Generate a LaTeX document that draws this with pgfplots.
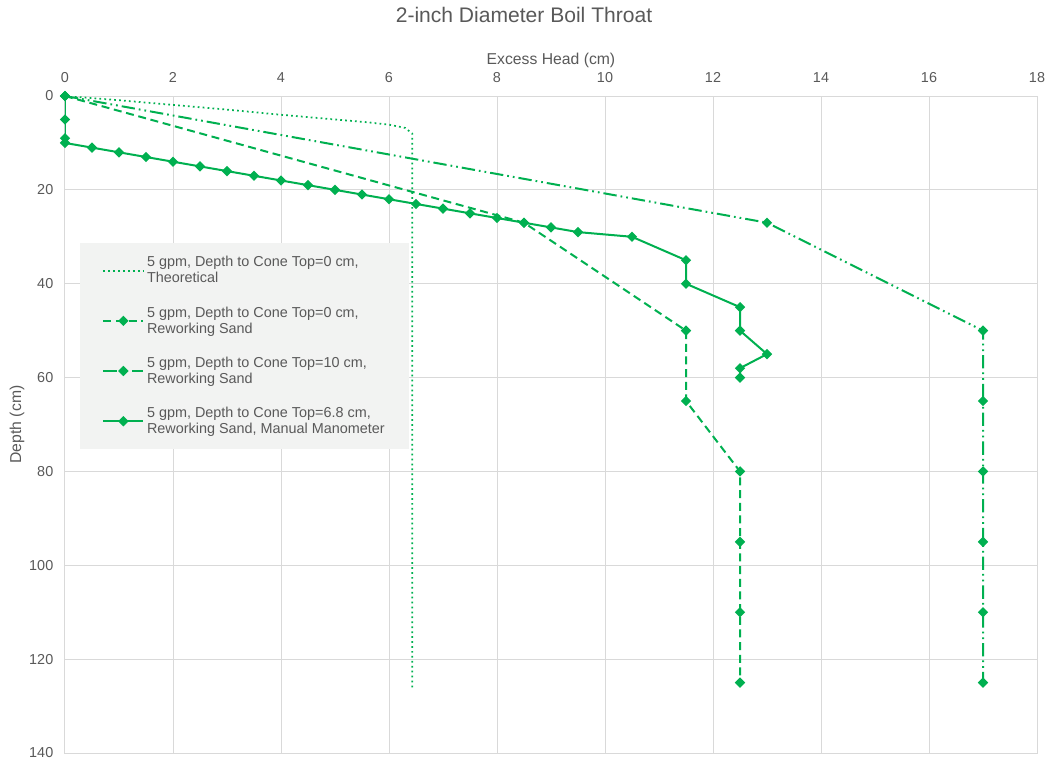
\documentclass[border=0pt]{standalone}
\usepackage{fontspec}
\setmainfont{Liberation Sans}
\usepackage{pgfplots}
\pgfplotsset{compat=1.18}
\usetikzlibrary{plotmarks}
\definecolor{grn}{RGB}{0,176,80}
\definecolor{txt}{RGB}{89,89,89}
\definecolor{grd}{RGB}{217,217,217}
\definecolor{lgbg}{RGB}{242,243,242}
\begin{document}
\begin{tikzpicture}
\useasboundingbox (-48.75pt,-6pt) rectangle (736.5pt,564.75pt);
\begin{axis}[
  scale only axis,
  width=729pt, height=492.75pt,
  xmin=0, xmax=18, ymin=0, ymax=140,
  y dir=reverse,
  xtick={0,2,...,18}, ytick={0,20,...,140},
  xticklabel pos=top,
  grid=major,
  major grid style={draw=grd, line width=0.75pt},
  axis line style={draw=grd, line width=0.75pt},
  major tick length=0pt,
  /pgf/number format/assume math mode=true,
  ticklabel style={font=\fontsize{10.8}{12}\selectfont, text=txt},
  xticklabel style={anchor=base, inner sep=0pt, yshift=10pt},
  yticklabel style={anchor=east, inner sep=0pt, xshift=-8.6pt},
  xlabel={Excess Head (cm)},
  xlabel style={at={(axis cs:9,0)}, anchor=base, yshift=23.8pt, font=\fontsize{11.8}{13}\selectfont, text=txt},
  ylabel={Depth (cm)},
  ylabel style={at={(axis cs:-0.89,70)}, anchor=center, font=\fontsize{11.8}{13}\selectfont, text=txt},
  title={2-inch Diameter Boil Throat},
  title style={at={(axis cs:8.5,0)}, anchor=base, yshift=49pt, font=\fontsize{15.8}{18}\selectfont, text=txt},
  legend cell align=left,
  legend style={at={(axis cs:0.28,31.3)}, anchor=north west, fill=lgbg, draw=none,
    font=\fontsize{10.8}{12}\selectfont, text=txt,
    cells={align=left}, row sep=12.3pt, inner xsep=16.5pt, inner ysep=8pt},
  legend image code/.code={\draw[mark repeat=2,mark phase=2,#1] plot coordinates {(0pt,0pt) (15pt,0pt) (30pt,0pt)};},
  every axis plot/.append style={line width=1.5pt, grn},
  mark options={solid, fill=grn, draw=grn, rotate=45},
  mark size=2pt,
]
\addplot[no marks, line width=1.3pt, dash pattern=on 1.3pt off 2.4pt] coordinates {
(0,0) (1,0.9) (2,1.9) (3,2.9) (4,4.0) (5,5.0) (5.6,5.6) (6,6.1) (6.3,6.8) (6.43,8) (6.43,126)
};
\addlegendentry{5 gpm, Depth to Cone Top=0 cm,\\Theoretical}
\addplot[mark=square*, dash pattern=on 6pt off 3.5pt] coordinates {
(0,0) (8.5,27) (11.5,50) (11.5,65) (12.5,80) (12.5,95) (12.5,110) (12.5,125)
};
\addlegendentry{5 gpm, Depth to Cone Top=0 cm,\\Reworking Sand}
\addplot[mark=square*, dash pattern=on 10pt off 3pt on 1.3pt off 3pt on 1.3pt off 3pt] coordinates {
(0,0) (13,27) (17,50) (17,65) (17,80) (17,95) (17,110) (17,125)
};
\addlegendentry{5 gpm, Depth to Cone Top=10 cm,\\Reworking Sand}
\addplot[mark=square*, solid] coordinates {
(0,0) (0,5) (0,9) (0,10) (0.5,11) (1,12) (1.5,13) (2,14) (2.5,15) (3,16) (3.5,17) (4,18) (4.5,19) (5,20) (5.5,21) (6,22) (6.5,23) (7,24) (7.5,25) (8,26) (8.5,27) (9,28) (9.5,29) (10.5,30) (11.5,35) (11.5,40) (12.5,45) (12.5,50) (13,55) (12.5,58) (12.5,60)
};
\addlegendentry{5 gpm, Depth to Cone Top=6.8 cm,\\Reworking Sand, Manual Manometer}
\end{axis}
\end{tikzpicture}
\end{document}
